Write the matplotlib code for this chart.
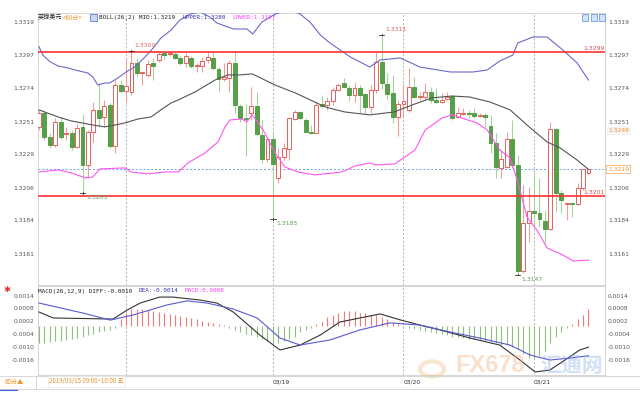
import matplotlib
matplotlib.use("Agg")
import matplotlib.pyplot as plt
from matplotlib.lines import Line2D
from matplotlib.patches import Rectangle, Circle
from matplotlib.transforms import blended_transform_factory

W, H = 640, 400

# GBP/USD hourly candles, 2019/03/15 - 03/21
opens = [1.32480, 1.32575, 1.32411, 1.32357, 1.32514, 1.32432, 1.32439, 1.32343, 1.32480, 1.32220,
         1.32446, 1.32596, 1.32548, 1.32630, 1.32350, 1.32766, 1.32725, 1.32719, 1.32917, 1.32848,
         1.32835, 1.32917, 1.32937, 1.32985, 1.32978, 1.32978, 1.32951, 1.32917, 1.32951, 1.32896,
         1.32896, 1.32937, 1.32951, 1.32876, 1.32807, 1.32814, 1.32917, 1.32623, 1.32541, 1.32575,
         1.32623, 1.32425, 1.32261, 1.32398, 1.32131, 1.32275, 1.32329, 1.32534, 1.32582, 1.32527,
         1.32446, 1.32439, 1.32637, 1.32630, 1.32657, 1.32732, 1.32780, 1.32746, 1.32698, 1.32746,
         1.32705, 1.32616, 1.32732, 1.32924, 1.32773, 1.32712, 1.32548, 1.32637, 1.32596, 1.32753,
         1.32684, 1.32684, 1.32719, 1.32664, 1.32650, 1.32671, 1.32691, 1.32548, 1.32568, 1.32575,
         1.32575, 1.32555, 1.32561, 1.32486, 1.32370, 1.32200, 1.32206, 1.32398, 1.32220, 1.31498,
         1.31826, 1.31906, 1.31892, 1.31838, 1.31783, 1.32466, 1.32029, 1.31954, 1.31961, 1.31954,
         1.32063, 1.32166]
highs = [1.32596, 1.32596, 1.32439, 1.32541, 1.32548, 1.32480, 1.32459, 1.32500, 1.32568, 1.32459,
         1.32650, 1.32780, 1.32664, 1.32643, 1.32801, 1.32801, 1.32951, 1.33000, 1.32951, 1.32862,
         1.32937, 1.32951, 1.32992, 1.32995, 1.32992, 1.32992, 1.32964, 1.32985, 1.32964, 1.32917,
         1.32958, 1.32992, 1.32992, 1.32889, 1.32917, 1.32937, 1.32992, 1.32637, 1.32637, 1.32753,
         1.32719, 1.32527, 1.32411, 1.32439, 1.32336, 1.32370, 1.32548, 1.32596, 1.32589, 1.32541,
         1.32493, 1.32650, 1.32698, 1.32684, 1.32753, 1.32780, 1.32814, 1.32766, 1.32787, 1.32766,
         1.32712, 1.32766, 1.32992, 1.33110, 1.32848, 1.32835, 1.32657, 1.32780, 1.32883, 1.32821,
         1.32719, 1.32780, 1.32753, 1.32746, 1.32712, 1.32719, 1.32698, 1.32616, 1.32609, 1.32596,
         1.32609, 1.32575, 1.32575, 1.32561, 1.32439, 1.32322, 1.32446, 1.32527, 1.32288, 1.32083,
         1.32070, 1.32186, 1.32131, 1.31913, 1.32514, 1.32473, 1.32049, 1.31967, 1.31967, 1.32097,
         1.32193, 1.32193]
lows = [1.32459, 1.32391, 1.32336, 1.32343, 1.32398, 1.32391, 1.32322, 1.32336, 1.32030, 1.32131,
        1.32377, 1.32480, 1.32480, 1.32336, 1.32302, 1.32712, 1.32644, 1.32698, 1.32821, 1.32766,
        1.32821, 1.32801, 1.32924, 1.32937, 1.32964, 1.32944, 1.32903, 1.32889, 1.32883, 1.32855,
        1.32855, 1.32917, 1.32869, 1.32719, 1.32794, 1.32719, 1.32575, 1.32514, 1.32282, 1.32527,
        1.32418, 1.32234, 1.32241, 1.31850, 1.32097, 1.32254, 1.32254, 1.32527, 1.32527, 1.32439,
        1.32432, 1.32432, 1.32609, 1.32596, 1.32630, 1.32725, 1.32746, 1.32657, 1.32650, 1.32575,
        1.32575, 1.32575, 1.32712, 1.32739, 1.32664, 1.32507, 1.32418, 1.32541, 1.32582, 1.32678,
        1.32664, 1.32664, 1.32644, 1.32644, 1.32644, 1.32664, 1.32527, 1.32541, 1.32561, 1.32541,
        1.32541, 1.32548, 1.32480, 1.32302, 1.32131, 1.32131, 1.32200, 1.32200, 1.31470, 1.31480,
        1.31694, 1.31797, 1.31797, 1.31687, 1.31776, 1.31899, 1.31892, 1.31844, 1.31865, 1.31947,
        1.32049, 1.32152]
closes = [1.32575, 1.32411, 1.32357, 1.32514, 1.32411, 1.32439, 1.32343, 1.32473, 1.32220, 1.32446,
          1.32596, 1.32541, 1.32623, 1.32350, 1.32766, 1.32725, 1.32760, 1.32917, 1.32848, 1.32855,
          1.32910, 1.32896, 1.32978, 1.32971, 1.32985, 1.32951, 1.32917, 1.32964, 1.32896, 1.32903,
          1.32930, 1.32958, 1.32883, 1.32807, 1.32821, 1.32917, 1.32630, 1.32541, 1.32534, 1.32623,
          1.32432, 1.32261, 1.32398, 1.32227, 1.32275, 1.32336, 1.32541, 1.32582, 1.32541, 1.32446,
          1.32439, 1.32630, 1.32623, 1.32657, 1.32732, 1.32766, 1.32753, 1.32698, 1.32746, 1.32698,
          1.32616, 1.32732, 1.32924, 1.32780, 1.32705, 1.32548, 1.32637, 1.32657, 1.32753, 1.32684,
          1.32691, 1.32719, 1.32664, 1.32650, 1.32664, 1.32684, 1.32541, 1.32575, 1.32575, 1.32568,
          1.32555, 1.32561, 1.32548, 1.32370, 1.32206, 1.32261, 1.32398, 1.32220, 1.31496, 1.31826,
          1.31906, 1.31892, 1.31851, 1.31783, 1.32466, 1.32029, 1.31981, 1.31961, 1.31954, 1.32063,
          1.32193, 1.32190]

upper_x = [0, 0.7, 2, 3.5, 5.3, 6.6, 9, 9.9, 10.8, 12.1, 13, 14.5, 16, 17.6, 19.5, 21, 22.4, 24.3,
           25.9, 27.8, 29.6, 31.4, 32.7, 35.7, 38.2, 39.3, 41, 43.4, 46.1, 48, 49.8, 51.7, 53.5,
           57.2, 60.8, 62.7, 66.4, 70, 75.6, 79.8, 82.4, 84.7, 87.1, 88, 90.8, 93.4, 96.3, 98.9, 101]
upper_v = [1.33028, 1.32971, 1.32926, 1.32896, 1.32883, 1.32869, 1.32848, 1.32821, 1.32766, 1.32780,
           1.32780, 1.32814, 1.32855, 1.32889, 1.32958, 1.33019, 1.33087, 1.33142, 1.33210, 1.33251,
           1.33265, 1.33231, 1.33190, 1.33149, 1.33149, 1.33115, 1.33197, 1.33251, 1.33279, 1.33251,
           1.33197, 1.33108, 1.33053, 1.32958, 1.32889, 1.32937, 1.32951, 1.32889, 1.32855, 1.32855,
           1.32869, 1.32930, 1.32971, 1.33053, 1.33094, 1.33094, 1.33005, 1.32917, 1.32800]
mid_x = [0, 3.5, 5.9, 9.9, 12.1, 14, 15.8, 18.2, 20.6, 22.4, 24.3, 25.6, 28.7, 32.4, 34.7, 36.9,
         39.2, 43.4, 47.1, 50.7, 52.6, 56.2, 60.8, 65.3, 68.6, 72.2, 75.9, 79.2, 82.9, 86.6, 89.7,
         93.4, 95.8, 98.9, 101]
mid_v = [1.32596, 1.32548, 1.32521, 1.32493, 1.32480, 1.32493, 1.32507, 1.32534, 1.32548, 1.32596,
         1.32644, 1.32664, 1.32719, 1.32801, 1.32835, 1.32835, 1.32842, 1.32766, 1.32712, 1.32650,
         1.32616, 1.32582, 1.32562, 1.32582, 1.32630, 1.32678, 1.32691, 1.32684, 1.32650, 1.32596,
         1.32493, 1.32377, 1.32336, 1.32254, 1.32190]
lower_x = [0, 3.5, 5.9, 8.6, 9.9, 11.2, 15.8, 16.9, 20, 23.2, 25.6, 27.4, 30.5, 32.9, 34.2, 35.1,
           37.3, 38.2, 39.2, 40.3, 41.5, 43.4, 45.2, 47.6, 50.7, 55.7, 58.1, 60.8, 61.8, 65.4, 67.3,
           69.1, 71, 74.1, 75.9, 80.5, 82.4, 84.7, 86.6, 87.9, 89.7, 91.5, 93.4, 96.3, 98.2, 101]
lower_v = [1.32172, 1.32186, 1.32166, 1.32131, 1.32138, 1.32193, 1.32200, 1.32172, 1.32159, 1.32172,
           1.32172, 1.32234, 1.32302, 1.32377, 1.32480, 1.32527, 1.32534, 1.32514, 1.32562, 1.32507,
           1.32439, 1.32302, 1.32206, 1.32172, 1.32152, 1.32172, 1.32213, 1.32234, 1.32220, 1.32227,
           1.32275, 1.32322, 1.32459, 1.32541, 1.32562, 1.32507, 1.32459, 1.32322, 1.32268, 1.32118,
           1.31865, 1.31776, 1.31653, 1.31605, 1.31564, 1.31570]

# MACD(26,12,9), values in units of 0.0001
macd_hist = [-8, -8, -7.5, -7, -7, -6.5, -6, -5.5, -5, -4.5, -4, -3, -2.5, -2, -1,
             3, 6, 8, 8, 8, 7.5, 7, 6.5, 6, 5.5, 5, 4.5, 4, 3.5, 3, 2.5, 2, 1.5, 1, 0.5,
             -1, -2, -3, -4, -4.5, -5, -6, -7, -8, -8, -7, -6, -5, -3, -2, -1,
             1, 2, 4, 5, 6, 7, 7, 7, 6, 6, 5, 5, 4, 3, 2, 1,
             -0.5, -1, -1.5, -2, -2.5, -3, -3.5, -4, -4.5, -5, -5, -5.5, -6, -6, -6.5, -7, -7.5,
             -8, -9, -9, -10, -11, -13, -15, -15, -14, -12,
             -8, -5, -3, -1, 1, 3, 5, 8]
diff_x = [0, 2.6, 13.6, 16.2, 18.6, 22.2, 24.6, 29.6, 32.7, 35.7, 40.6, 44.3, 48, 51.7, 55.3, 59,
          62.7, 66.4, 70, 73.7, 79.2, 84.7, 88.4, 91.2, 93.9, 96.7, 99.4, 101]
diff_v = [6.5, 3.7, 3.2, 7.4, 10.7, 13.5, 13.5, 12.1, 10.7, 6.5, -4.3, -11.3, -9, -4.3, 1.8, 3.7,
          5.6, 2.8, 0.4, -1.9, -5.7, -9, -16, -21.6, -20.7, -16, -11.3, -10]
dea_x = [0, 8.1, 13.1, 17.3, 23.5, 27.2, 30.9, 35.7, 40.1, 44.3, 48, 53.5, 59, 64.5, 70, 75.6, 81,
         86.6, 90.3, 93.9, 97.6, 101]
dea_v = [10.7, 6, 2.7, 5.1, 9.8, 11.7, 10.7, 7.9, 3.7, -5.7, -9, -6.6, -1.9, 1.4, 0.4, -2.9, -5.7,
         -9, -13.7, -16, -15.1, -14]

price_ticks = [1.3319, 1.3297, 1.3274, 1.3251, 1.3229, 1.3206, 1.3184, 1.3161]
macd_ticks = [0.0014, 0.0008, 0.0002, -0.0004, -0.0010, -0.0016]
day_lines = [16, 43, 67, 91]
day_labels = ["", "03/19", "03/20", "03/21"]
support = [1.3299, 1.3201]
last_close = 1.3219
marks = [(17, 1.3300, "1.3300", "high"), (8, 1.3203, "1.3203", "low"),
         (43, 1.3185, "1.3185", "low"), (63, 1.3311, "1.3311", "high"),
         (88, 1.3147, "1.3147", "low")]

RED = "#e5605c"
RED_WICK = "#eea09c"
GREEN = "#55a048"
GREEN_WICK = "#a8d49c"
GREY_TXT = "#555555"
ORANGE = "#f0902a"
MONO = "DejaVu Sans Mono"
CJK = ["Noto Sans CJK SC", "DejaVu Sans"]


def fx(px):
    return px / W


def fy(py):
    return 1 - py / H


fig = plt.figure(figsize=(W / 100, H / 100), dpi=100)
ax = fig.add_axes([fx(38), fy(285), (605 - 38) / W, (285 - 13) / H])
mx = fig.add_axes([fx(38), fy(375), (605 - 38) / W, (375 - 286) / H])

xlim = (-0.18, 104.04)
for a in (ax, mx):
    a.set_xlim(*xlim)
    a.set_xticks([])
    a.set_yticks([])
    for sp in a.spines.values():
        sp.set_color("#cfcfcf")
        sp.set_linewidth(0.6)
    for d in day_lines:
        a.axvline(d - 0.05, color="#b0b0b0", lw=0.7, ls=(0, (2, 2)), zorder=1)

ax.set_ylim(1.31400, 1.33258)
mx.set_ylim(-0.002303, 0.001869)

# candles
for i, (o, h, l, c) in enumerate(zip(opens, highs, lows, closes)):
    up = c >= o
    ax.vlines(i, l, h, color=RED_WICK if up else GREEN_WICK, lw=0.8, zorder=3)
    bottom = min(o, c)
    height = max(abs(c - o), 0.000012)
    ax.add_patch(Rectangle((i - 0.36, bottom), 0.72, height,
                           facecolor="white" if up else GREEN,
                           edgecolor=RED if up else GREEN, lw=0.7, zorder=4))

ax.plot(upper_x, upper_v, color="#6a6acc", lw=0.8, zorder=5)
ax.plot(mid_x, mid_v, color="#555555", lw=0.8, zorder=5)
ax.plot(lower_x, lower_v, color="#ff55f0", lw=0.8, zorder=5)

for lvl in support:
    ax.axhline(lvl, color="#ff3030", lw=1.2, zorder=6)
ax.axhline(last_close, color="#6fa0e8", lw=0.7, ls=(0, (2, 2)), zorder=2)

right = blended_transform_factory(ax.transAxes, ax.transData)
for lvl in support:
    ax.text(1.0, lvl + 0.00008, f"{lvl:.4f}", transform=right, ha="right", va="bottom",
            color="#e04848", fontsize=4.4, zorder=7)

for i, val, label, kind in marks:
    ax.plot([i - 0.5, i + 0.5], [val, val], color="#333333", lw=0.6, zorder=7)
    ax.plot([i, i], [val - 0.00005, val + 0.00005], color="#333333", lw=0.6, zorder=7)
    if kind == "high":
        ax.annotate(label, (i, val), xytext=(2.4, 3.5), textcoords="offset points",
                    color="#e06060", fontsize=4.4, va="center", ha="left", zorder=8)
    else:
        ax.annotate(label, (i, val), xytext=(2.4, -3.5), textcoords="offset points",
                    color="#5aa050", fontsize=4.4, va="center", ha="left", zorder=8)

# price axis labels both sides
for t in price_ticks:
    ax.text(1.005, t, f"{t:.4f}", transform=right, ha="left", va="center",
            color=GREY_TXT, fontsize=4.3)
    ax.text(-0.006, t, f"{t:.4f}", transform=right, ha="right", va="center",
            color=GREY_TXT, fontsize=4.3)
fig.text(fx(608), fy(130.5), "1.3248", ha="left", va="center", color=ORANGE, fontsize=4.3,
         bbox=dict(boxstyle="square,pad=0.25", fc="#f7f7f7", ec="#ececec", lw=0.5))
ax.text(1.005, last_close, "1.3219", transform=right, ha="left", va="center",
        color=ORANGE, fontsize=4.3,
        bbox=dict(boxstyle="square,pad=0.25", fc="white", ec="#f4b070", lw=0.6))

# MACD panel
for i, v in enumerate(macd_hist):
    mx.vlines(i, 0, v * 1e-4, color="#ee7a7a" if v > 0 else "#8cc07c", lw=0.8, zorder=3)
mx.plot(diff_x, [v * 1e-4 for v in diff_v], color="#333333", lw=0.8, zorder=4)
mx.plot(dea_x, [v * 1e-4 for v in dea_v], color="#5a5ad0", lw=0.8, zorder=4)
mright = blended_transform_factory(mx.transAxes, mx.transData)
for t in macd_ticks:
    mx.text(1.005, t, f"{t:.4f}", transform=mright, ha="left", va="center",
            color=GREY_TXT, fontsize=4.3)
    mx.text(-0.006, t, f"{t:.4f}", transform=mright, ha="right", va="center",
            color=GREY_TXT, fontsize=4.3)

# headers
fig.text(fx(37.5), fy(17.5), "英镑美元", family=CJK, fontsize=4.4, color="#222222", va="center")
fig.text(fx(62.5), fy(17.5), "<60分>", family=CJK, fontsize=4.4, color=ORANGE, va="center")
fig.add_artist(Rectangle((fx(89.5), fy(20.5)), 7 / W, 6 / H, transform=fig.transFigure,
                         fc="#c8d8f4", ec="#4a6ad0", lw=0.5))
fig.text(fx(99), fy(17.5), "BOLL(26,2) MID:1.3219", family=MONO, fontsize=4.3,
         color="#222222", va="center")
fig.text(fx(182.7), fy(17.5), "UPPER:1.3280", family=MONO, fontsize=4.3, color="#3838b0", va="center")
fig.text(fx(232.3), fy(17.5), "LOWER:1.3157", family=MONO, fontsize=4.3, color="#ff40ff", va="center")

fig.text(fx(37.5), fy(291), "MACD(26,12,9) DIFF:-0.0010", family=MONO, fontsize=4.3,
         color="#222222", va="center")
fig.text(fx(138.3), fy(291), "DEA:-0.0014", family=MONO, fontsize=4.3, color="#3838b0", va="center")
fig.text(fx(185), fy(291), "MACD:0.0008", family=MONO, fontsize=4.3, color="#ff40ff", va="center")
fig.text(fx(7), fy(290), "✱", fontsize=6, color="#e03030", va="center", ha="center")

for k in range(3):
    fig.add_artist(Rectangle((fx(582 + 8.5 * k), fy(20.5)), 6 / W, 6 / H, transform=fig.transFigure,
                             fc="#d0e4fa", ec="#5a8ad8", lw=0.5))

# bottom time bar
for py in (375.5, 388.5):
    fig.add_artist(Line2D([0, 1], [fy(py), fy(py)], transform=fig.transFigure,
                          color="#d0d0d0", lw=0.6))
fig.add_artist(Line2D([fx(36), fx(36)], [fy(375.5), fy(388.5)], transform=fig.transFigure,
                      color="#d0d0d0", lw=0.6))
fig.add_artist(Rectangle((0, fy(391)), 18 / W, 2 / H, transform=fig.transFigure,
                         fc="#3a6ad8", ec="none"))
fig.text(fx(5), fy(381.5), "60分▲", family=CJK, fontsize=4.4, color=ORANGE, va="center")
fig.text(fx(49), fy(381.5), "2019/03/15 09:00~10:00 五", family=CJK, fontsize=4.4,
         color=ORANGE, va="center",
         bbox=dict(boxstyle="square,pad=0.2", fc="white", ec="#e8e8e8", lw=0.5))
for d, lab in zip(day_lines, day_labels):
    if lab:
        xp = 39 + 5.44 * d
        fig.text(fx(xp), fy(381.5), lab, fontsize=4.3, color="#333333", va="center", zorder=5)

# watermark
fig.add_artist(Circle((fx(432), fy(369)), 12 / W, transform=fig.transFigure,
                      fc="none", ec="#f3c89a", lw=3, alpha=0.45))
fig.text(fx(455), fy(366), "FX678", family="Liberation Sans", fontsize=17, weight="bold",
         color="#f6b98a", alpha=0.45, va="center", zorder=0)
fig.text(fx(540), fy(366), "汇通网", family=CJK, fontsize=15, weight="bold",
         color="#8fb0e6", alpha=0.4, va="center", zorder=0)

fig.savefig("out.png", dpi=100)
